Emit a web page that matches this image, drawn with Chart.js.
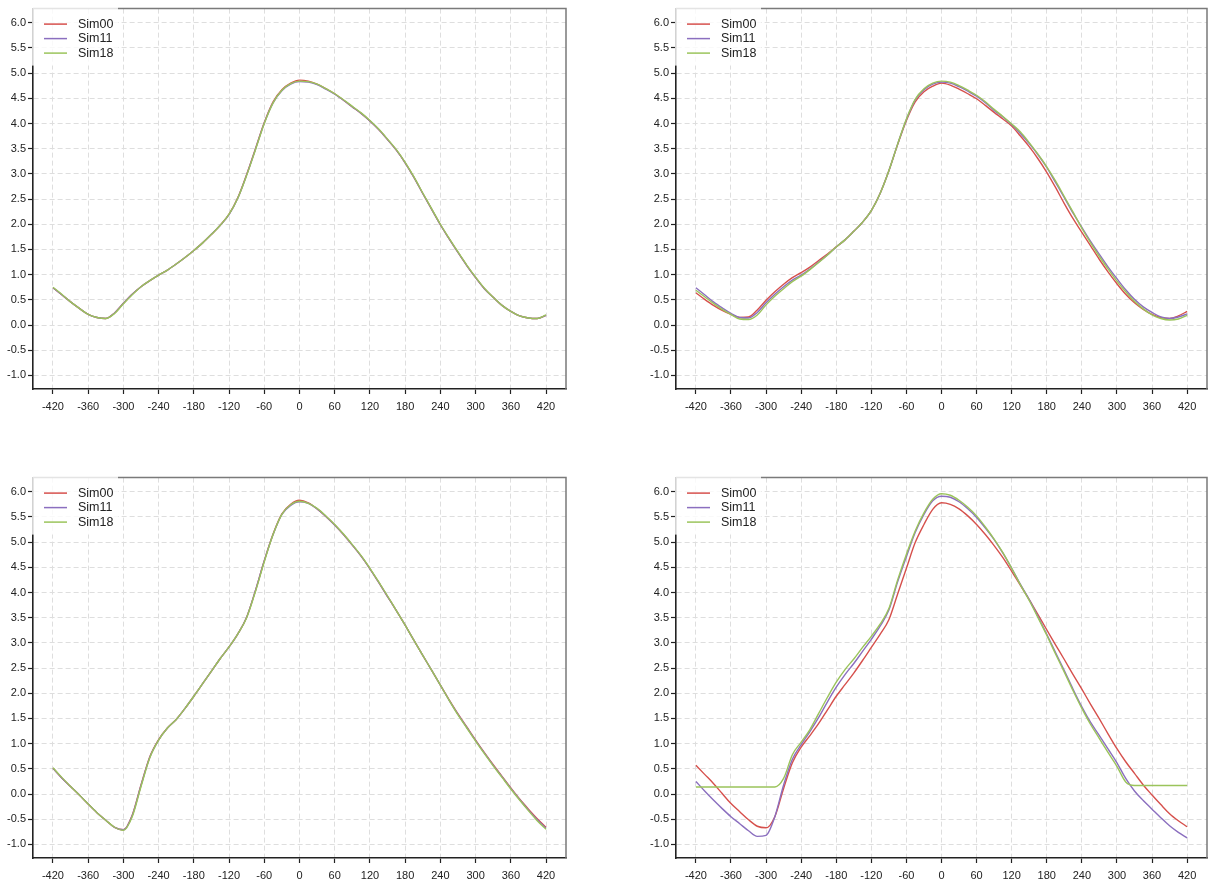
<!DOCTYPE html>
<html>
<head>
<meta charset="utf-8">
<script src="https://cdn.jsdelivr.net/npm/chart.js@4.4.1/dist/chart.umd.min.js"></script>
<style>
  html, body { margin: 0; padding: 0; background: #fff; width: 1208px; height: 881px; overflow: hidden; }
  canvas { position: absolute; }
  #c1 { left: 0; top: 0; }
  #c2 { left: 643px; top: 0; }
  #c3 { left: 0; top: 469px; }
  #c4 { left: 643px; top: 469px; }
</style>
</head>
<body>
<canvas id="c1" width="600" height="430"></canvas>
<canvas id="c2" width="565" height="430"></canvas>
<canvas id="c3" width="600" height="430"></canvas>
<canvas id="c4" width="565" height="430"></canvas>
<script>
// x positions (every 15), ticks
const xs = [];
for (let x = -420; x <= 420; x += 15) xs.push(x);
const xTicks = [-420, -360, -300, -240, -180, -120, -60, 0, 60, 120, 180, 240, 300, 360, 420];
const yTicks = [-1.0, -0.5, 0.0, 0.5, 1.0, 1.5, 2.0, 2.5, 3.0, 3.5, 4.0, 4.5, 5.0, 5.5, 6.0];
const seriesNames = ['Sim00', 'Sim11', 'Sim18'];
const seriesColors = ['#d6504c', '#8b6fbf', '#9bc45b'];

// top-left
const p1Sim00 = [0.74,0.60,0.46,0.33,0.21,0.15,0.13,0.24,0.43,0.61,0.76,0.88,0.99,1.09,1.21,1.34,1.48,1.63,1.80,1.98,2.20,2.53,2.99,3.50,4.02,4.43,4.67,4.80,4.86,4.84,4.78,4.69,4.59,4.46,4.33,4.20,4.05,3.88,3.68,3.47,3.22,2.93,2.61,2.30,1.99,1.71,1.44,1.18,0.94,0.72,0.55,0.39,0.27,0.18,0.14,0.13,0.19];
const p1Sim11 = [0.74,0.60,0.46,0.33,0.21,0.15,0.13,0.24,0.43,0.61,0.76,0.88,0.99,1.09,1.21,1.34,1.48,1.63,1.80,1.98,2.19,2.52,2.98,3.49,4.01,4.41,4.65,4.78,4.83,4.82,4.77,4.68,4.58,4.46,4.33,4.20,4.05,3.88,3.68,3.47,3.22,2.93,2.61,2.30,1.99,1.71,1.44,1.18,0.94,0.72,0.55,0.39,0.27,0.18,0.14,0.13,0.19];
const p1Sim18 = [0.75,0.61,0.46,0.33,0.21,0.15,0.13,0.23,0.42,0.60,0.76,0.88,0.99,1.09,1.21,1.34,1.48,1.63,1.80,1.98,2.20,2.52,2.97,3.48,4.00,4.41,4.66,4.79,4.84,4.83,4.78,4.69,4.59,4.47,4.34,4.21,4.06,3.89,3.69,3.48,3.23,2.94,2.62,2.31,2.00,1.72,1.45,1.19,0.95,0.73,0.55,0.39,0.27,0.18,0.14,0.13,0.20];

// top-right
const p2Sim00 = [0.64,0.51,0.39,0.29,0.21,0.15,0.16,0.30,0.49,0.66,0.81,0.94,1.04,1.15,1.28,1.41,1.55,1.69,1.86,2.04,2.27,2.61,3.06,3.58,4.06,4.43,4.63,4.74,4.80,4.76,4.68,4.59,4.49,4.36,4.22,4.09,3.95,3.75,3.54,3.30,3.03,2.73,2.41,2.11,1.84,1.57,1.30,1.05,0.82,0.61,0.44,0.31,0.21,0.15,0.13,0.18,0.27];
const p2Sim11 = [0.74,0.60,0.46,0.34,0.23,0.15,0.14,0.25,0.44,0.61,0.76,0.89,0.99,1.11,1.25,1.39,1.55,1.69,1.86,2.04,2.27,2.61,3.06,3.59,4.08,4.47,4.67,4.78,4.82,4.80,4.73,4.64,4.54,4.41,4.26,4.13,3.98,3.80,3.60,3.38,3.13,2.83,2.53,2.22,1.94,1.66,1.40,1.15,0.92,0.70,0.51,0.36,0.25,0.16,0.13,0.16,0.22];
const p2Sim18 = [0.69,0.56,0.43,0.31,0.21,0.12,0.11,0.20,0.40,0.57,0.72,0.86,0.97,1.10,1.24,1.39,1.55,1.69,1.86,2.04,2.27,2.61,3.06,3.59,4.09,4.48,4.69,4.80,4.84,4.82,4.75,4.66,4.56,4.43,4.28,4.14,3.99,3.83,3.62,3.39,3.14,2.86,2.55,2.24,1.92,1.63,1.36,1.11,0.87,0.66,0.47,0.32,0.20,0.13,0.10,0.12,0.19];

// bottom-left
const p3Sim00 = [0.51,0.32,0.15,-0.02,-0.20,-0.37,-0.52,-0.66,-0.71,-0.42,0.18,0.74,1.08,1.31,1.48,1.70,1.94,2.19,2.44,2.69,2.92,3.18,3.51,4.04,4.63,5.16,5.56,5.75,5.83,5.78,5.66,5.51,5.34,5.15,4.94,4.72,4.47,4.20,3.92,3.64,3.35,3.05,2.75,2.46,2.16,1.87,1.59,1.33,1.07,0.82,0.58,0.35,0.12,-0.10,-0.30,-0.49,-0.66];
const p3Sim11 = [0.51,0.32,0.15,-0.02,-0.20,-0.37,-0.52,-0.66,-0.71,-0.43,0.17,0.73,1.07,1.31,1.48,1.70,1.94,2.19,2.44,2.69,2.92,3.18,3.51,4.04,4.63,5.15,5.55,5.73,5.80,5.77,5.66,5.51,5.34,5.15,4.94,4.72,4.47,4.20,3.92,3.64,3.35,3.05,2.75,2.46,2.16,1.86,1.58,1.32,1.06,0.81,0.57,0.34,0.11,-0.11,-0.32,-0.51,-0.68];
const p3Sim18 = [0.52,0.33,0.15,-0.02,-0.20,-0.37,-0.52,-0.66,-0.72,-0.45,0.15,0.72,1.07,1.31,1.48,1.70,1.94,2.19,2.44,2.69,2.92,3.18,3.50,4.02,4.61,5.15,5.55,5.74,5.81,5.77,5.67,5.52,5.35,5.16,4.95,4.73,4.48,4.21,3.93,3.64,3.35,3.05,2.75,2.46,2.16,1.86,1.57,1.31,1.05,0.80,0.56,0.33,0.10,-0.12,-0.33,-0.53,-0.70];

// bottom-right
const p4Sim00 = [0.57,0.39,0.21,0.01,-0.19,-0.35,-0.51,-0.64,-0.67,-0.45,0.11,0.62,0.93,1.16,1.40,1.67,1.94,2.17,2.40,2.65,2.91,3.17,3.46,3.97,4.48,4.99,5.35,5.65,5.78,5.75,5.66,5.52,5.35,5.15,4.93,4.69,4.42,4.14,3.86,3.56,3.26,2.96,2.67,2.37,2.08,1.78,1.49,1.19,0.90,0.64,0.41,0.18,-0.02,-0.21,-0.39,-0.53,-0.65];
const p4Sim11 = [0.25,0.06,-0.12,-0.29,-0.45,-0.59,-0.73,-0.84,-0.82,-0.45,0.18,0.69,0.98,1.24,1.52,1.83,2.12,2.37,2.59,2.83,3.07,3.33,3.65,4.21,4.71,5.19,5.55,5.82,5.91,5.89,5.80,5.66,5.49,5.28,5.05,4.78,4.48,4.16,3.86,3.52,3.17,2.81,2.45,2.08,1.73,1.42,1.16,0.89,0.62,0.31,0.06,-0.13,-0.30,-0.47,-0.63,-0.76,-0.87];
const p4Sim18 = [0.14,0.14,0.14,0.14,0.14,0.14,0.14,0.14,0.14,0.14,0.31,0.78,1.03,1.28,1.60,1.92,2.22,2.47,2.68,2.91,3.13,3.37,3.68,4.25,4.76,5.22,5.58,5.85,5.96,5.93,5.83,5.69,5.52,5.30,5.06,4.79,4.48,4.15,3.84,3.50,3.15,2.78,2.42,2.05,1.70,1.38,1.10,0.82,0.55,0.24,0.17,0.17,0.17,0.17,0.17,0.17,0.17];

Chart.defaults.font.family = '"Liberation Sans", Arial, sans-serif';
Chart.defaults.font.size = 11;
Chart.defaults.color = '#222';

// frame (grey top/right) and legend box in the top-left corner
const framePlugin = {
  id: 'frame',
  afterDraw(chart) {
    const ctx = chart.ctx;
    const a = chart.chartArea;
    ctx.save();
    ctx.strokeStyle = '#7a7a7a';
    ctx.lineWidth = 1.5;
    ctx.beginPath();
    ctx.moveTo(a.left, a.top);
    ctx.lineTo(a.right, a.top);
    ctx.lineTo(a.right, a.bottom);
    ctx.stroke();

    ctx.fillStyle = 'rgba(255,255,255,0.8)';
    ctx.fillRect(a.left - 1, a.top - 2, 86, 59);
    ctx.font = '12.5px "Liberation Sans", Arial, sans-serif';
    ctx.textBaseline = 'middle';
    chart.data.datasets.forEach((ds, i) => {
      const y = a.top + 15.5 + i * 14.5;
      ctx.strokeStyle = ds.borderColor;
      ctx.lineWidth = 1.5;
      ctx.beginPath();
      ctx.moveTo(a.left + 11, y);
      ctx.lineTo(a.left + 34, y);
      ctx.stroke();
      ctx.fillStyle = '#222';
      ctx.fillText(ds.label, a.left + 45, y);
    });
    ctx.restore();
  }
};

function makePanel(id, values, padRight) {
  const datasets = values.map((v, i) => ({
    label: seriesNames[i],
    data: v,
    order: values.length - i,
    borderColor: seriesColors[i],
    backgroundColor: seriesColors[i],
    borderWidth: 1.4,
    pointRadius: 0,
    cubicInterpolationMode: 'monotone',
    fill: false
  }));
  return new Chart(document.getElementById(id), {
    type: 'line',
    data: { labels: xs, datasets: datasets },
    options: {
      responsive: false,
      animation: false,
      layout: { padding: { top: 7, right: padRight, left: 0, bottom: 0 } },
      plugins: { legend: { display: false }, tooltip: { enabled: false } },
      scales: {
        x: {
          type: 'linear',
          min: -454,
          max: 454,
          afterBuildTicks: (s) => { s.ticks = xTicks.map(v => ({ value: v })); },
          afterFit: (s) => { s.height = 41; },
          ticks: { autoSkip: false, maxRotation: 0, padding: 6, callback: (v) => String(v) },
          grid: { color: '#dedede', lineWidth: 1, tickColor: '#222', tickLength: 5, tickWidth: 1.2 },
          border: { color: '#222', width: 1.6, dash: [5, 3] }
        },
        y: {
          min: -1.27,
          max: 6.28,
          afterBuildTicks: (s) => { s.ticks = yTicks.map(v => ({ value: v })); },
          afterFit: (s) => { s.width = 33; },
          ticks: { padding: 2, callback: (v) => Number(v).toFixed(1) },
          grid: { color: '#dedede', lineWidth: 1, tickColor: '#222', tickLength: 5, tickWidth: 1.2 },
          border: { color: '#222', width: 1.6, dash: [5, 3] }
        }
      }
    },
    plugins: [framePlugin]
  });
}

makePanel('c1', [p1Sim00, p1Sim11, p1Sim18], 34);
makePanel('c2', [p2Sim00, p2Sim11, p2Sim18], 1);
makePanel('c3', [p3Sim00, p3Sim11, p3Sim18], 34);
makePanel('c4', [p4Sim00, p4Sim11, p4Sim18], 1);
</script>
</body>
</html>
